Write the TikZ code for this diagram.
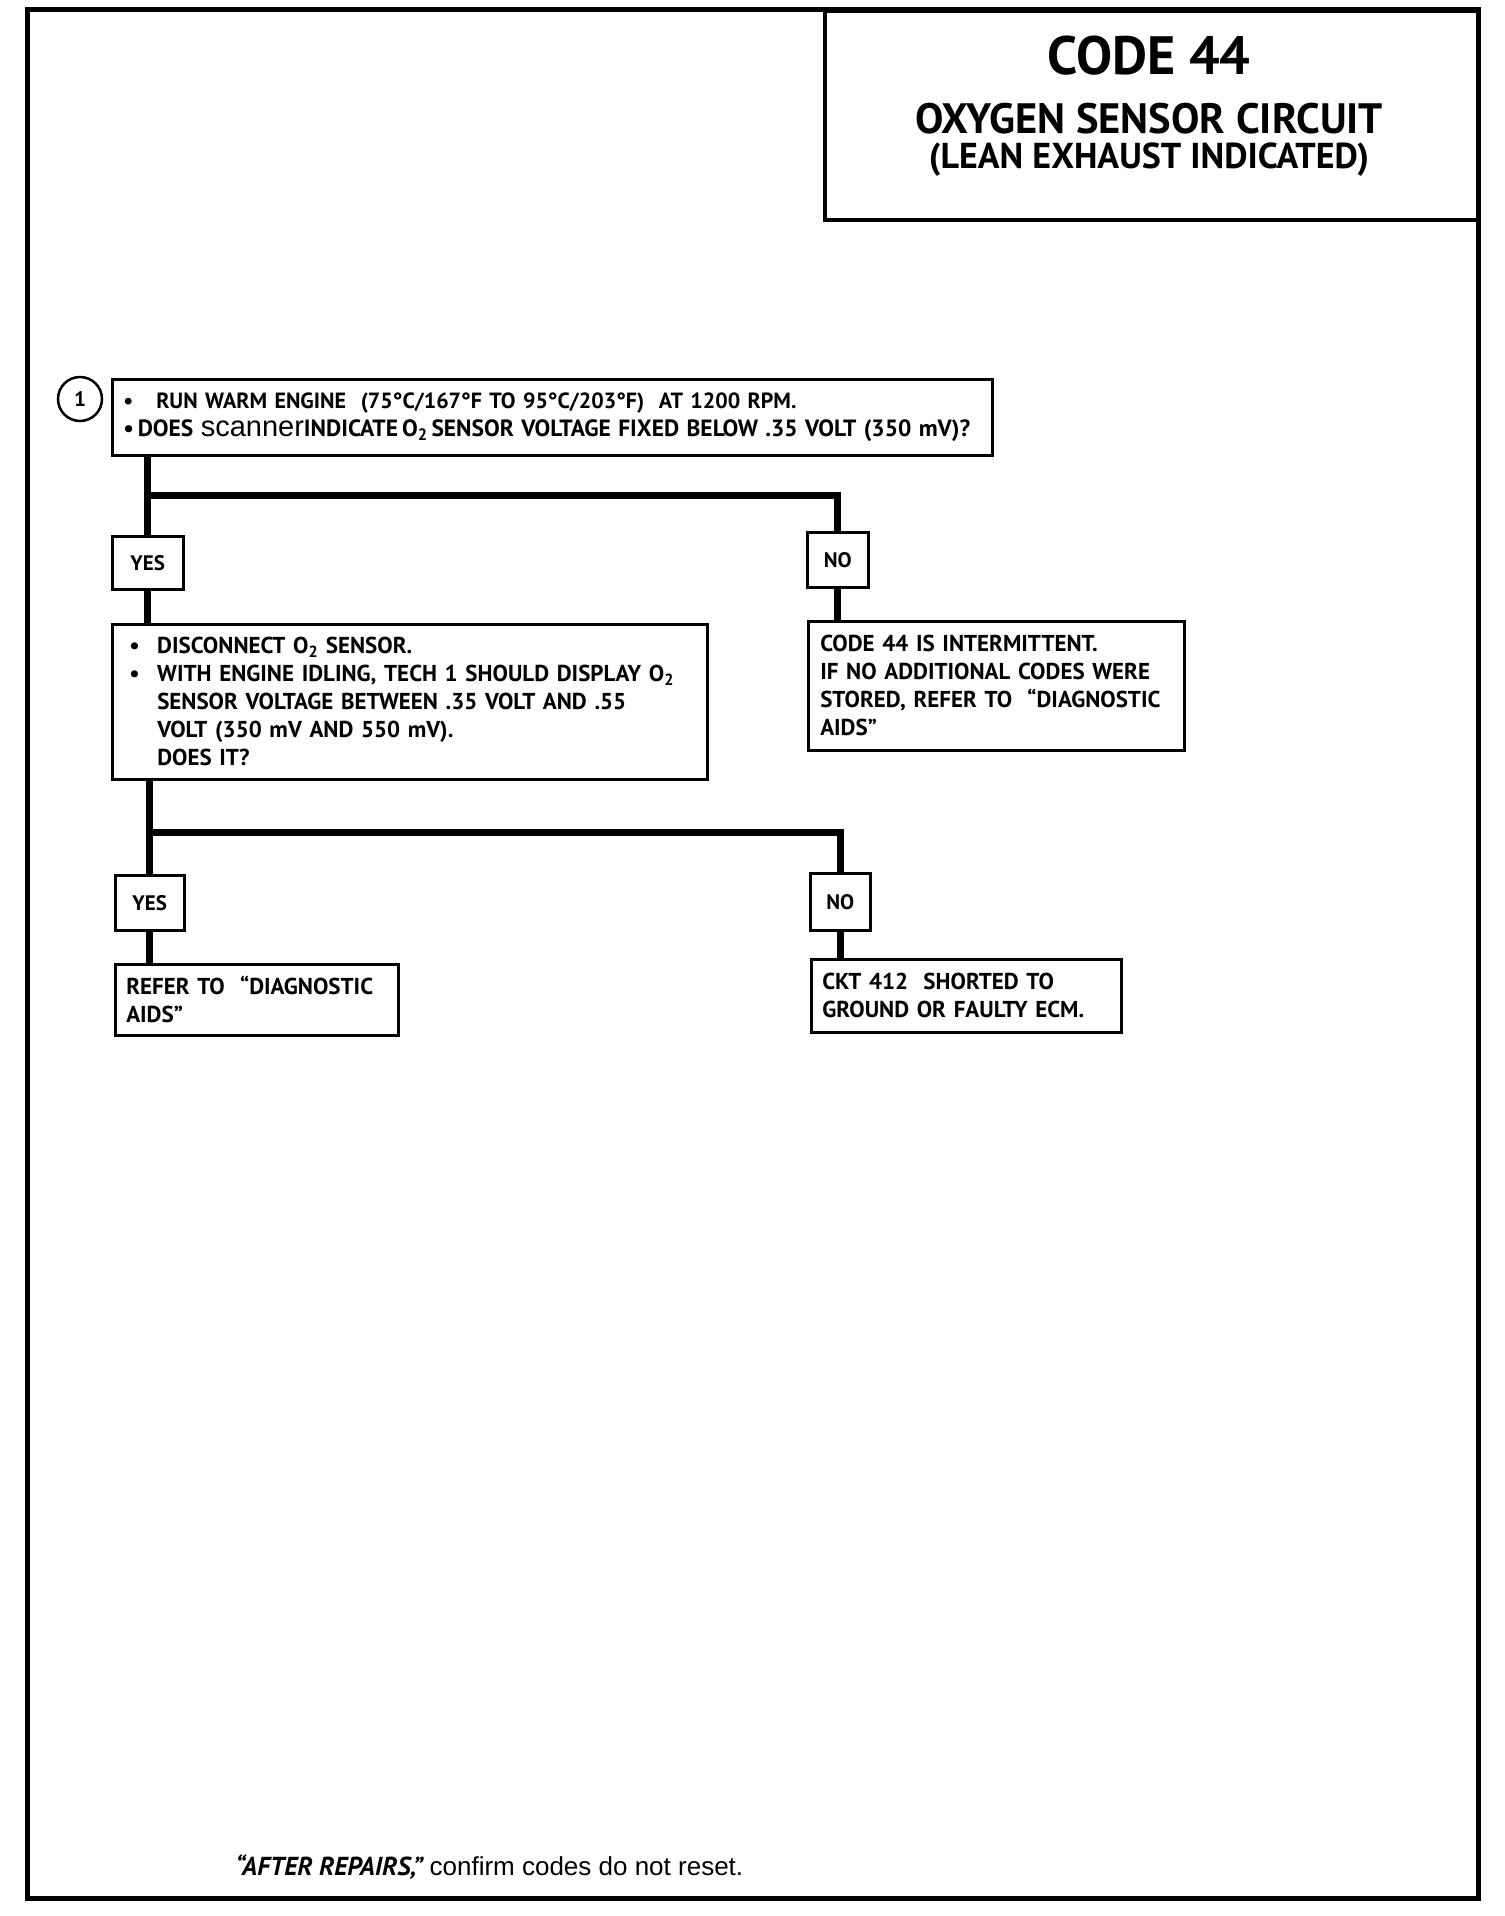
\documentclass[tikz,border=0pt]{standalone}
\usepackage{fontspec}
\setmainfont{PT Sans}
\newfontfamily\plainfont{Liberation Sans}
\usetikzlibrary{positioning, calc}
\newcommand{\Otwo}{O\textsubscript{2}}

\begin{document}
\begin{tikzpicture}[x=1pt, y=-1pt,
    box/.style={draw, line width=2.5pt, anchor=north west, inner ysep=0pt, align=left,
                font=\fontsize{23}{28}\selectfont\bfseries},
    answer/.style={draw, line width=2.5pt, anchor=north west, inner sep=0pt,
                font=\fontsize{21}{22}\selectfont\bfseries},
    conn/.style={line width=7pt},
    sheet/.style={line width=5pt}]
    \useasboundingbox (0,0) rectangle (1504,1916);

    % Page frame and title block
    \draw[sheet] (27,10) rectangle (1478,1898);
    \node[draw, line width=3.5pt, anchor=north west, minimum width=653pt, minimum height=208pt] (title) at (823,10) {};
    \node[anchor=base, font=\fontsize{54}{54}\selectfont\bfseries] (title1) at (1149,75) {CODE 44};
    \node[anchor=base, font=\fontsize{42.5}{43}\selectfont\bfseries] (title2) at (1149,134) {OXYGEN SENSOR CIRCUIT};
    \node[anchor=base, font=\fontsize{36}{36}\selectfont\bfseries] (title3) at (1149,168) {(LEAN EXHAUST INDICATED)};

    % Step number
    \node[circle, draw, line width=2.5pt, minimum size=44pt, inner sep=0pt, font=\fontsize{21}{22}\selectfont\bfseries] (step1) at (80,399) {1};

    % First check
    \node[box, font=\fontsize{22}{28}\selectfont\bfseries, inner xsep=11pt, text width=858pt, minimum height=76pt] (check1) at (111,378)
        {\makebox[33pt][l]{•}RUN WARM ENGINE~~(75°C/167°F TO 95°C/203°F)~~AT 1200 RPM.\\
         {\fontsize{23.5}{28}\selectfont •\,DOES {\plainfont\mdseries\fontsize{29}{28}\selectfont scanner}INDICATE\,\Otwo\,SENSOR VOLTAGE FIXED BELOW .35 VOLT (350 mV)?}};
    \node[answer, minimum width=71pt, minimum height=53pt] (yes1) at (111,535) {YES};
    \node[answer, minimum width=61pt, minimum height=55pt] (no1) at (806,531) {NO};

    % Second check
    \node[box, inner xsep=17pt, text width=561pt, minimum height=155pt] (check2) at (111,623)
        {\makebox[28pt][l]{•}DISCONNECT \Otwo{} SENSOR.\\
         \makebox[28pt][l]{•}WITH ENGINE IDLING, TECH 1 SHOULD DISPLAY \Otwo\\
         \hspace*{28pt}SENSOR VOLTAGE BETWEEN .35 VOLT AND .55\\
         \hspace*{28pt}VOLT (350 mV AND 550 mV).\\
         \hspace*{28pt}DOES IT?};
    \node[box, inner xsep=12pt, text width=352pt, minimum height=129pt] (result1) at (807,620)
        {CODE 44 IS INTERMITTENT.\\
         IF NO ADDITIONAL CODES WERE\\
         STORED, REFER TO~~``DIAGNOSTIC\\
         AIDS''};
    \node[answer, minimum width=69pt, minimum height=55pt] (yes2) at (114,874) {YES};
    \node[answer, minimum width=60pt, minimum height=57pt] (no2) at (809,872) {NO};

    % Results
    \node[box, inner xsep=11pt, text width=261pt, minimum height=71pt] (result2) at (114,963)
        {REFER TO~~``DIAGNOSTIC\\ AIDS''};
    \node[box, inner xsep=11pt, text width=288pt, minimum height=73pt] (result3) at (810,958)
        {CKT 412~~SHORTED TO\\ GROUND OR FAULTY ECM.};

    % Connectors
    \coordinate (fork1) at (0,495);
    \coordinate (fork2) at (0,832);
    \draw[conn] (check1.south -| yes1.north) -- (yes1.north);
    \draw[conn] (yes1.north |- fork1) -| (no1.north);
    \draw[conn] (yes1.south) -- (yes1.south |- check2.north);
    \draw[conn] (no1.south) -- (no1.south |- result1.north);
    \draw[conn] (check2.south -| yes2.north) -- (yes2.north);
    \draw[conn] (yes2.north |- fork2) -| (no2.north);
    \draw[conn] (yes2.south) -- (yes2.south |- result2.north);
    \draw[conn] (no2.south) -- (no2.south |- result3.north);

    % Footer
    \node[anchor=west, font=\fontsize{26}{28}\selectfont] (footer) at (232,1867)
        {{\bfseries\itshape ``AFTER REPAIRS,''} {\plainfont confirm codes do not reset.}};
\end{tikzpicture}
\end{document}
